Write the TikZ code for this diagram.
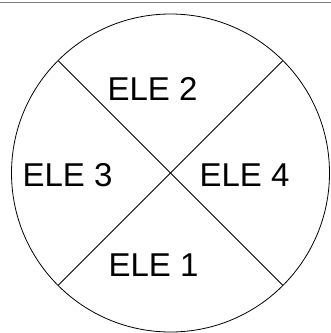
\documentclass[tikz,border=0pt]{standalone}
\usepackage{fontspec}
\setmainfont{Liberation Sans}
\usetikzlibrary{calc}
\begin{document}
\begin{tikzpicture}[x=1pt,y=-1pt,
  lbl/.style={inner sep=0pt, anchor=base, font=\fontsize{33}{36}\selectfont},
  edge/.style={draw=black, line width=0.8pt}]
\useasboundingbox (0,0) rectangle (331,333);
\draw[draw=gray, line width=1.6pt] (0,2.5) -- (331,2.5);
\coordinate (c) at (170.5,173);
\draw[edge] (c) circle (159);
\coordinate (ul) at ($(c)+(-112.4,-112.4)$);
\coordinate (ur) at ($(c)+(112.4,-112.4)$);
\coordinate (ll) at ($(c)+(-112.4,112.4)$);
\coordinate (lr) at ($(c)+(112.4,112.4)$);
\draw[edge] (ul) -- (lr);
\draw[edge] (ur) -- (ll);
\node[lbl] (e2) at (152.5,100) {ELE 2};
\node[lbl] (e3) at (67.5,186) {ELE 3};
\node[lbl] (e4) at (244.5,186) {ELE 4};
\node[lbl] (e1) at (153.5,276) {ELE 1};
\end{tikzpicture}
\end{document}
